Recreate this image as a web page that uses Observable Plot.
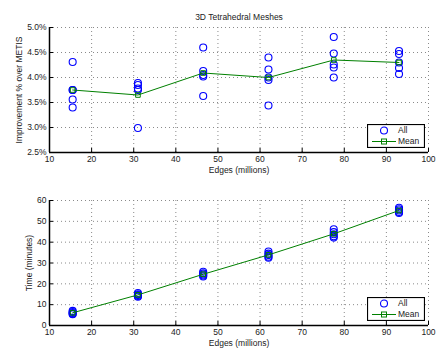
<!DOCTYPE html>
<html><head><meta charset="utf-8">
<script src="https://cdn.jsdelivr.net/npm/d3@7"></script>
<script src="https://cdn.jsdelivr.net/npm/@observablehq/plot@0.6"></script>
<style>
body{margin:0;background:#fff;font-family:"Liberation Sans",Arial,Helvetica,sans-serif;}
#wrap{position:relative;width:441px;height:351px;overflow:hidden;}
#wrap > div{position:absolute;left:0;}
.legend{position:absolute;}
</style></head><body><div id="wrap"><div id="p1" style="top:0"></div><div id="p2" style="top:180px"></div></div>
<script>
const edges = [15.5, 31, 46.5, 62, 77.5, 93];
const improvementAll = [
  [4.31, 3.75, 3.56, 3.40, 3.75],
  [3.89, 3.85, 3.78, 3.75, 2.99],
  [4.60, 4.13, 4.05, 4.02, 3.63],
  [4.40, 4.16, 4.00, 3.95, 3.44],
  [4.81, 4.48, 4.26, 4.20, 4.00],
  [4.53, 4.47, 4.30, 4.19, 4.07]
];
const improvementMean = [3.75, 3.65, 4.09, 4.00, 4.35, 4.30];
const timeAll = [
  [7.0, 6.5, 6.0, 5.6, 5.4],
  [15.6, 15.0, 14.6, 14.2, 13.8],
  [25.8, 25.0, 24.5, 24.0, 23.5],
  [35.5, 34.5, 33.8, 33.0, 32.5],
  [46.2, 44.8, 43.8, 42.8, 42.2],
  [56.5, 55.8, 55.2, 54.5, 54.0]
];
const timeMean = [6.1, 14.7, 24.6, 33.9, 44.0, 55.2];
const xTicks = [10, 20, 30, 40, 50, 60, 70, 80, 90, 100];
const improvementTicks = [2.5, 3.0, 3.5, 4.0, 4.5, 5.0];
const timeTicks = [0, 10, 20, 30, 40, 50, 60];
const titleText = "3D Tetrahedral Meshes";
const xLabel = "Edges (millions)";
const yLabel1 = "Improvement % over METIS";
const yLabel2 = "Time (minutes)";
const legendLabels = ["All", "Mean"];

const FONT = "Liberation Sans, Arial, Helvetica, sans-serif";
const BLUE = "#0000ff", GREEN = "#008000", GRID = "#8a8a8a";

function makePlot({all, mean, yTicks, yDomain, yFmt, yLabel, yLabelDx, height, marginTop, marginBottom, title}) {
  const pts = edges.flatMap((e, i) => all[i].map(v => ({x: e, y: v})));
  const means = edges.map((e, i) => ({x: e, y: mean[i]}));
  const marks = [
    Plot.ruleX(xTicks.slice(1), {stroke: GRID, strokeDasharray: "1,3"}),
    Plot.ruleY(yTicks.slice(1), {stroke: GRID, strokeDasharray: "1,3"}),
    Plot.axisX({ticks: xTicks, tickSize: -4, tickPadding: 7, label: null, fill: "#222", stroke: "#000"}),
    Plot.axisY({ticks: yTicks, tickSize: -4, tickPadding: 7, tickFormat: yFmt, label: null, fill: "#222", stroke: "#000"}),
    Plot.ruleX([xTicks[0]], {stroke: "#000", strokeWidth: 1.5}),
    Plot.ruleY([yDomain[0]], {stroke: "#000", strokeWidth: 1.5}),
    Plot.dot(pts, {x: "x", y: "y", r: 3.5, stroke: BLUE, strokeWidth: 1.1}),
    Plot.line(means, {x: "x", y: "y", stroke: GREEN, strokeWidth: 1}),
    Plot.dot(means, {x: "x", y: "y", symbol: "square", r: 2.6, stroke: GREEN, strokeWidth: 1}),
    Plot.text([xLabel], {frameAnchor: "bottom", dy: 17.5, lineAnchor: "middle", textAnchor: "middle", fill: "#222"}),
    Plot.text([yLabel], {frameAnchor: "left", rotate: -90, dx: yLabelDx, lineAnchor: "middle", textAnchor: "middle", fill: "#222"})
  ];
  if (title) marks.push(Plot.text([title], {frameAnchor: "top", dy: -10, lineAnchor: "middle", textAnchor: "middle", fill: "#222"}));
  return Plot.plot({
    width: 441, height, marginLeft: 49, marginRight: 13, marginTop, marginBottom,
    style: {fontFamily: FONT, fontSize: "8.5px", background: "white", overflow: "visible"},
    x: {domain: [xTicks[0], xTicks[xTicks.length - 1]]},
    y: {domain: yDomain},
    marks
  });
}

function legend(topPx) {
  const div = document.createElement("div");
  div.className = "legend";
  div.style.left = "367px"; div.style.top = topPx + "px";
  div.innerHTML = `<svg width="58" height="24" style="display:block;font-family:${FONT};font-size:8.5px">
    <rect x="0.5" y="0.5" width="57" height="23" fill="white" stroke="black" stroke-width="1.2"/>
    <circle cx="17" cy="6.5" r="3.5" fill="none" stroke="${BLUE}" stroke-width="1.1"/>
    <text x="31" y="6.5" dy="0.35em" fill="#222">${legendLabels[0]}</text>
    <line x1="5" x2="29" y1="17.5" y2="17.5" stroke="${GREEN}" stroke-width="1"/>
    <rect x="14.5" y="15" width="5" height="5" fill="none" stroke="${GREEN}" stroke-width="1"/>
    <text x="31" y="17.5" dy="0.35em" fill="#222">${legendLabels[1]}</text>
  </svg>`;
  return div;
}

document.getElementById("p1").append(makePlot({
  all: improvementAll, mean: improvementMean, yTicks: improvementTicks, yDomain: [2.5, 5.0],
  yFmt: d => d.toFixed(1) + "%", yLabel: yLabel1, yLabelDx: -30, height: 180, marginTop: 27, marginBottom: 28, title: titleText
}));
document.getElementById("p2").append(makePlot({
  all: timeAll, mean: timeMean, yTicks: timeTicks, yDomain: [0, 60],
  yFmt: d => String(d), yLabel: yLabel2, yLabelDx: -20, height: 171, marginTop: 20, marginBottom: 26, title: null
}));
const wrap = document.getElementById("wrap");
wrap.append(legend(124));
wrap.append(legend(297));
</script>
</body></html>
